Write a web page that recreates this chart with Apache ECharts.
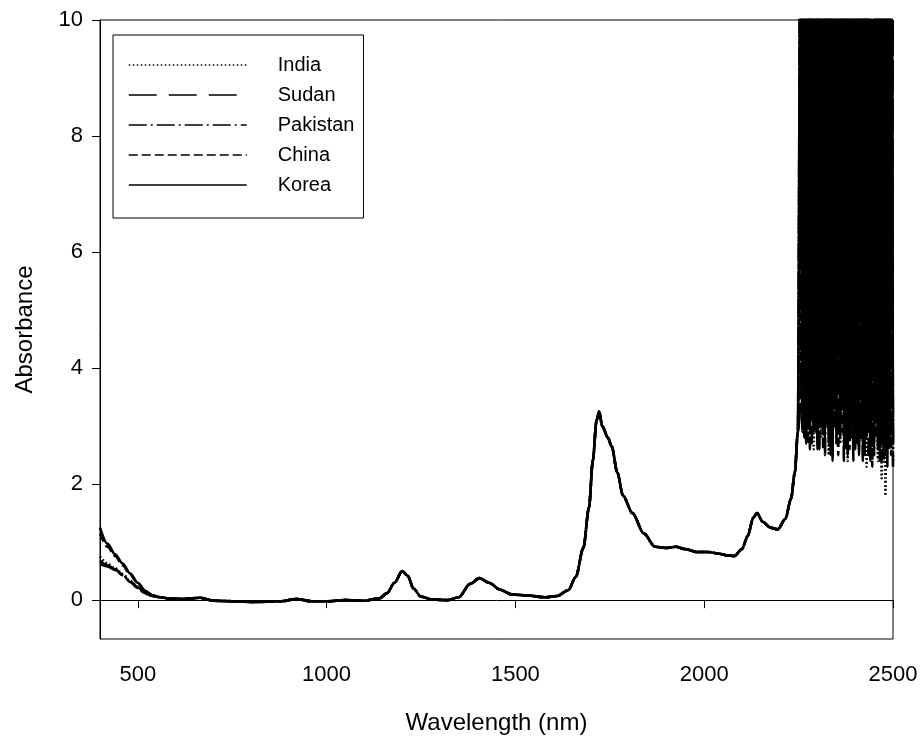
<!DOCTYPE html>
<html>
<head>
<meta charset="utf-8">
<script src="https://cdn.jsdelivr.net/npm/echarts@6/dist/echarts.min.js"></script>
<style>
  html, body { margin: 0; background: #fff; }
  #chart { width: 923px; height: 749px; }
</style>
</head>
<body>
<div id="chart"></div>
<script>
// --- data ---
var seriesNames = ['India', 'Sudan', 'Pakistan', 'China', 'Korea'];

// start of the spectra (400-560 nm), where the samples differ
var headWl = [400, 420, 440, 460, 480, 500, 520, 540, 560];
var headIndia    = [0.75, 0.63, 0.55, 0.45, 0.33, 0.23, 0.12, 0.07, 0.05];
var headSudan    = [0.68, 0.60, 0.53, 0.43, 0.32, 0.22, 0.12, 0.07, 0.05];
var headPakistan = [0.62, 0.58, 0.52, 0.44, 0.31, 0.21, 0.11, 0.07, 0.05];
var headChina    = [1.15, 0.92, 0.76, 0.60, 0.44, 0.29, 0.15, 0.08, 0.05];
var headKorea    = [1.25, 0.97, 0.79, 0.63, 0.46, 0.30, 0.16, 0.08, 0.05];

// middle of the spectra (580-2248 nm), all samples overlap
var commonWl = [580, 620, 665, 700, 800, 880, 920, 960, 1000, 1050,
  1100, 1140, 1160, 1180, 1200, 1215, 1230, 1250, 1280, 1320,
  1350, 1380, 1405, 1430, 1460, 1490, 1530, 1580, 1610, 1640,
  1660, 1680, 1695, 1705, 1715, 1722, 1730, 1745, 1755, 1770,
  1785, 1810, 1840, 1870, 1900, 1925, 1950, 1980, 2010, 2040,
  2060, 2080, 2100, 2115, 2130, 2140, 2155, 2175, 2195, 2215,
  2230, 2240, 2248];
var commonAbs = [0.03, 0.02, 0.04, -0.01, -0.03, -0.02, 0.02, -0.02, -0.02, 0.0,
  -0.01, 0.03, 0.12, 0.3, 0.5, 0.42, 0.2, 0.06, 0.01, 0.0,
  0.05, 0.28, 0.38, 0.3, 0.18, 0.1, 0.08, 0.05, 0.07, 0.17,
  0.4, 0.9, 1.6, 2.4, 3.1, 3.25, 3.0, 2.8, 2.65, 2.2,
  1.8, 1.5, 1.15, 0.92, 0.9, 0.92, 0.88, 0.83, 0.83, 0.8,
  0.77, 0.76, 0.88, 1.1, 1.42, 1.5, 1.35, 1.25, 1.22, 1.4,
  1.75, 2.2, 2.9];

// saturated, noisy end (2255-2500 nm)
var noiseWl = [2255, 2260, 2265, 2270, 2275, 2280, 2285, 2290, 2295, 2300,
  2305, 2310, 2315, 2320, 2325, 2330, 2335, 2340, 2345, 2350,
  2355, 2360, 2365, 2370, 2375, 2380, 2385, 2390, 2395, 2400,
  2405, 2410, 2415, 2420, 2425, 2430, 2435, 2440, 2445, 2450,
  2455, 2460, 2465, 2470, 2475, 2480, 2485, 2490, 2495, 2500];
var noiseIndia = [12, 3.1, 12, 2.9, 12, 3.4, 12, 2.6, 12, 3.0,
  12, 2.8, 12, 3.3, 12, 2.5, 12, 2.9, 12, 3.6,
  12, 2.7, 12, 3.1, 12, 2.4, 12, 3.0, 12, 3.5,
  12, 2.6, 12, 2.9, 12, 2.3, 12, 3.2, 12, 2.8,
  12, 2.4, 12, 2.1, 12, 1.8, 12, 2.6, 12, 2.4];
var noiseSudan = [3.3, 12, 2.8, 12, 3.0, 12, 2.7, 12, 3.5, 12,
  2.6, 12, 2.9, 12, 3.2, 12, 2.5, 12, 3.0, 12,
  2.8, 12, 3.4, 12, 2.6, 12, 2.9, 12, 2.4, 12,
  3.1, 12, 2.7, 12, 3.0, 12, 2.5, 12, 2.8, 12,
  3.2, 12, 2.4, 12, 2.7, 12, 2.3, 12, 2.9, 12];
var noisePakistan = [12, 2.9, 12, 3.2, 12, 2.6, 12, 3.0, 12, 2.8,
  12, 3.3, 12, 2.5, 12, 2.9, 12, 3.7, 12, 2.7,
  12, 3.0, 12, 2.4, 12, 2.8, 12, 3.2, 12, 2.6,
  12, 2.9, 12, 2.4, 12, 3.1, 12, 2.7, 12, 2.5,
  12, 3.0, 12, 2.4, 12, 2.8, 12, 2.6, 12, 2.3];
var noiseChina = [3.5, 12, 3.0, 12, 2.7, 12, 3.2, 12, 2.9, 12,
  3.4, 12, 2.6, 12, 3.0, 12, 2.8, 12, 3.3, 12,
  2.5, 12, 2.9, 12, 3.1, 12, 2.6, 12, 3.0, 12,
  2.7, 12, 3.2, 12, 2.5, 12, 2.9, 12, 2.3, 12,
  2.8, 12, 3.0, 12, 2.4, 12, 2.7, 12, 2.5, 12];
var noiseKorea = [12, 3.4, 12, 2.7, 12, 3.1, 12, 2.9, 12, 2.6,
  12, 3.0, 12, 3.5, 12, 2.7, 12, 2.4, 12, 3.1,
  12, 2.8, 12, 3.3, 12, 2.5, 12, 2.8, 12, 3.0,
  12, 2.5, 12, 3.3, 12, 2.8, 12, 2.4, 12, 3.0,
  12, 2.6, 12, 2.9, 12, 2.5, 12, 3.1, 12, 2.7];

var xTicks = [500, 1000, 1500, 2000, 2500];
var yTicks = [0, 2, 4, 6, 8, 10];

// line patterns as in the legend
var lineTypes = {
  India: [1.5, 2.5],
  Sudan: [28, 12],
  Pakistan: [18, 4, 2, 4],
  China: [9, 4],
  Korea: 'solid'
};

function pairs(head, noise) {
  var out = [];
  headWl.forEach(function(w, i) { out.push([w, head[i]]); });
  commonWl.forEach(function(w, i) { out.push([w, commonAbs[i]]); });
  noiseWl.forEach(function(w, i) { out.push([w, noise[i]]); });
  return out;
}

var seriesData = {
  India: pairs(headIndia, noiseIndia),
  Sudan: pairs(headSudan, noiseSudan),
  Pakistan: pairs(headPakistan, noisePakistan),
  China: pairs(headChina, noiseChina),
  Korea: pairs(headKorea, noiseKorea)
};

var font = 'Arial, "Liberation Sans", sans-serif';
function plain(v) { return String(v); }

var chart = echarts.init(document.getElementById('chart'), null, { renderer: 'canvas' });
chart.setOption({
  animation: false,
  backgroundColor: '#fff',
  grid: {
    left: 100, right: 30, top: 20, bottom: 110,
    show: true, borderColor: '#000', borderWidth: 1, backgroundColor: 'transparent'
  },
  legend: {
    orient: 'vertical',
    left: 113, top: 35,
    data: seriesNames,
    itemWidth: 118, itemHeight: 14, itemGap: 10,
    padding: [20, 9, 23, 15],
    borderColor: '#000', borderWidth: 1, backgroundColor: '#fff',
    lineStyle: { width: 1.5, color: '#000', opacity: 1 },
    itemStyle: { opacity: 0 },
    textStyle: { color: '#000', fontSize: 20, fontFamily: font, padding: [0, 0, 0, 26] }
  },
  xAxis: {
    type: 'value', min: 400, max: 2500,
    name: 'Wavelength (nm)', nameLocation: 'middle', nameGap: 72,
    nameTextStyle: { color: '#000', fontSize: 24, fontFamily: font },
    axisLine: { lineStyle: { color: '#000', width: 1 } },
    axisTick: { inside: false, length: 8, lineStyle: { color: '#000' }, customValues: xTicks },
    axisLabel: { color: '#000', fontSize: 22, fontFamily: font, margin: 25, formatter: plain, customValues: xTicks },
    splitLine: { show: false }
  },
  yAxis: {
    type: 'value', min: -0.67, max: 10,
    name: 'Absorbance', nameLocation: 'middle', nameGap: 63, nameRotate: 90,
    nameTextStyle: { color: '#000', fontSize: 24, fontFamily: font },
    axisLine: { lineStyle: { color: '#000', width: 1 } },
    axisTick: { inside: false, length: 8, lineStyle: { color: '#000' }, customValues: yTicks },
    axisLabel: { color: '#000', fontSize: 22, fontFamily: font, margin: 17, formatter: plain, customValues: yTicks },
    splitLine: { show: false }
  },
  series: seriesNames.map(function(n) {
    return {
      name: n, type: 'line', data: seriesData[n],
      symbol: 'none', smooth: 0.3, smoothMonotone: 'x', clip: true,
      lineStyle: { color: '#000', width: 2.6, type: lineTypes[n] },
      itemStyle: { color: '#000' }
    };
  })
});
</script>
</body>
</html>
